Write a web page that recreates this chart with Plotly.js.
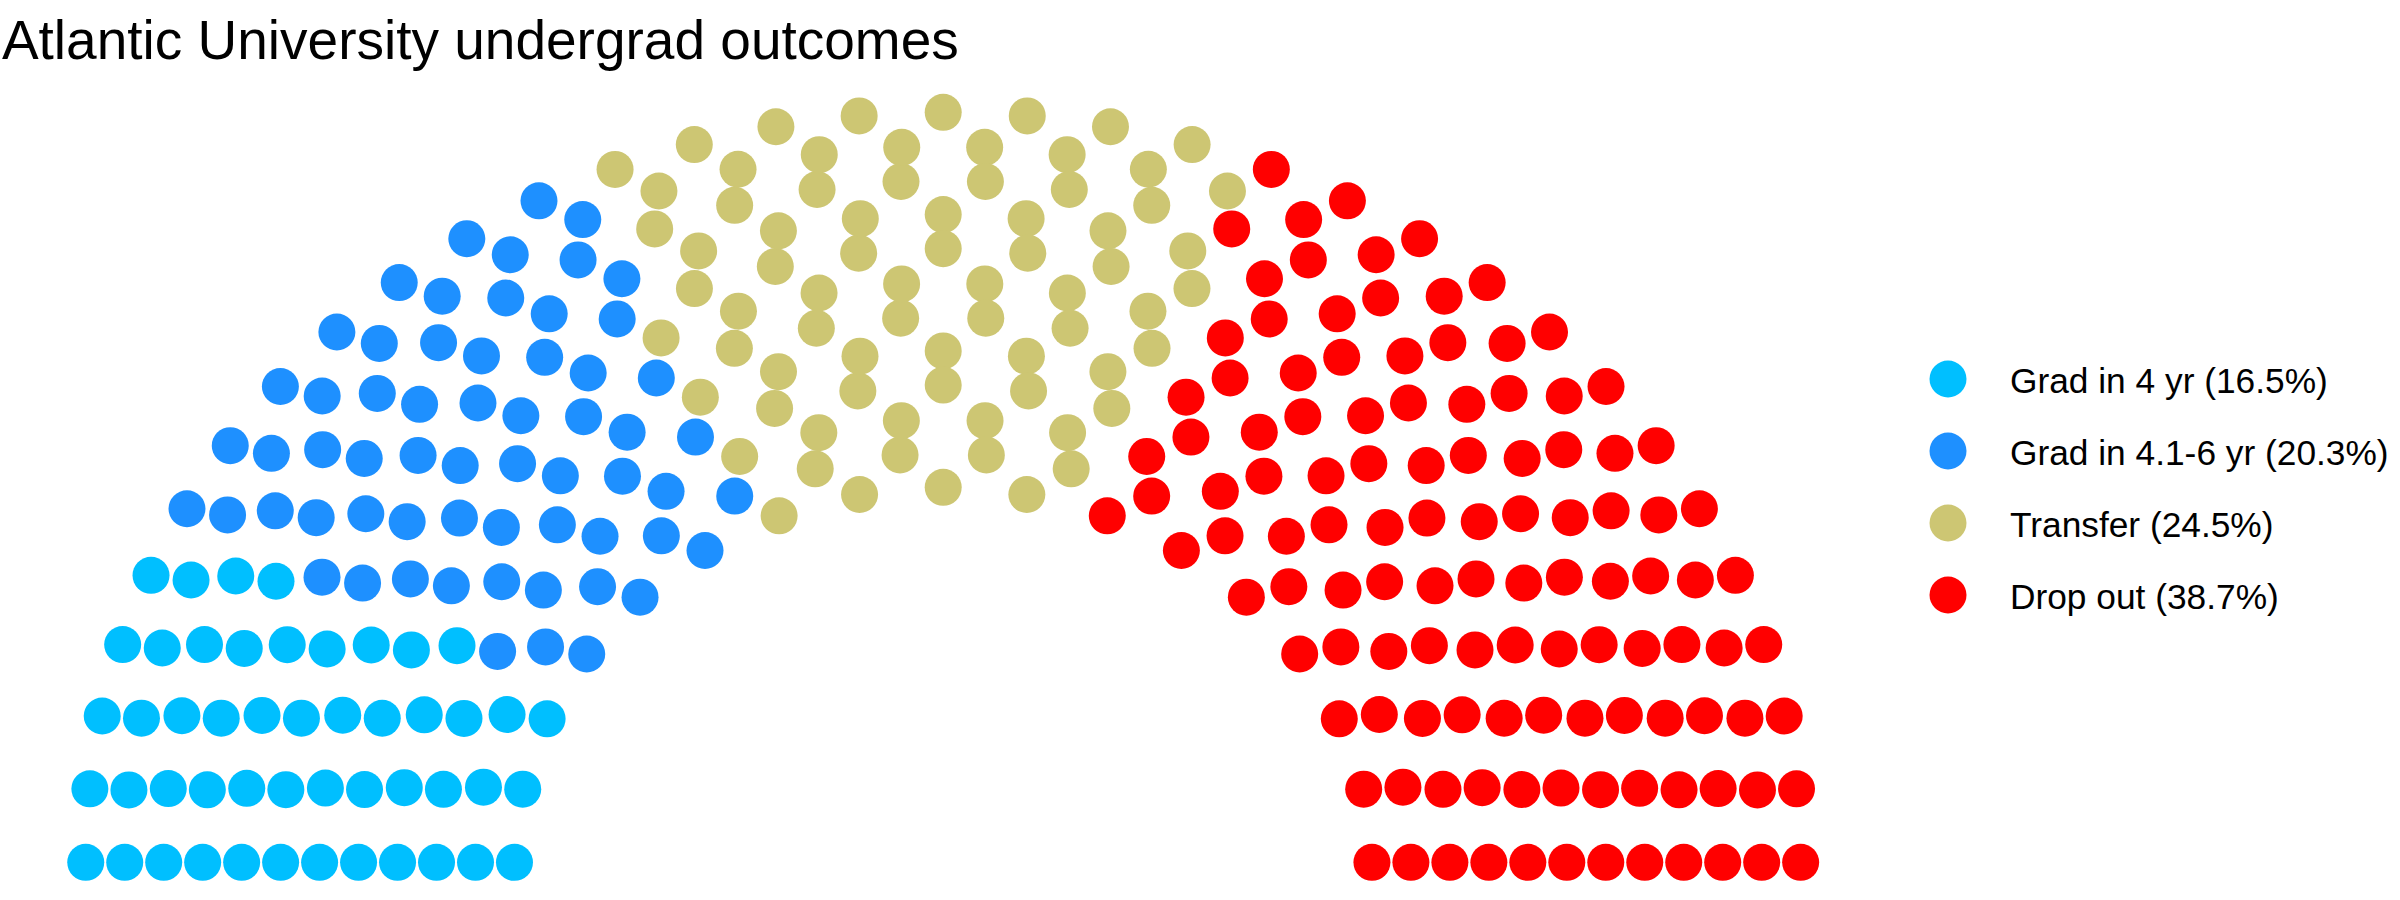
<!DOCTYPE html>
<html>
<head>
<meta charset="utf-8">
<script src="https://cdn.plot.ly/plotly-3.0.1.min.js"></script>
<style>
  html, body { margin: 0; padding: 0; background: #ffffff; }
  #chart { width: 2400px; height: 900px; }
</style>
</head>
<body>
<div id="chart"></div>
<script>
// ---- Data ----
const categories = ['Grad in 4 yr', 'Grad in 4.1-6 yr', 'Transfer', 'Drop out'];
const percents = [16.5, 20.3, 24.5, 38.7];
const seats = [49, 61, 74, 116];
const colors = ['#00BFFF', '#1E90FF', '#CDC673', '#FF0000'];
const parlRows = 12;
const chartTitle = 'Atlantic University undergrad outcomes';

// ---- Semicircle parliament layout (ggparliament-style) ----
function rRound(v) {
  const f = Math.floor(v);
  const d = v - f;
  if (Math.abs(d - 0.5) < 1e-12) return (f % 2 === 0) ? f : f + 1;
  return Math.round(v);
}
function rSeq(from, to, len) {
  if (len === 1) return [from];
  const n1 = len - 1;
  const by = (to - from) / n1;
  const out = [from];
  for (let k = 1; k < n1; k++) out.push(from + k * by);
  out.push(to);
  return out;
}
function parliamentLayout(total, M) {
  const radii = rSeq(1, 2, M);
  let N = total;
  const pts = [];
  for (let i = 0; i < M; i++) {
    let s = 0;
    for (let k = i; k < M; k++) s += radii[k];
    const cnt = rRound(N * radii[i] / s);
    const thetas = rSeq(0, Math.PI, cnt);
    N -= cnt;
    thetas.forEach(t => pts.push({ x: radii[i] * Math.cos(t), y: radii[i] * Math.sin(t), row: i + 1, theta: t }));
  }
  pts.sort((a, b) => (b.theta - a.theta) || (b.row - a.row));
  return pts;
}

const totalSeats = seats.reduce((a, b) => a + b, 0);
const layoutPts = parliamentLayout(totalSeats, parlRows);
const partyOf = [];
seats.forEach((n, p) => { for (let k = 0; k < n; k++) partyOf.push(p); });

const traces = categories.map((name, p) => {
  const xs = [], ys = [];
  layoutPts.forEach((pt, idx) => { if (partyOf[idx] === p) { xs.push(pt.x); ys.push(pt.y); } });
  return {
    type: 'scatter', mode: 'markers', name: name,
    x: xs, y: ys, xaxis: 'x', yaxis: 'y',
    marker: { size: 37, color: colors[p], line: { width: 0 } },
    showlegend: false, hoverinfo: 'name'
  };
});

// ---- Custom legend (large keys like the reference) ----
const LEG_KEY_X = 52, LEG_TEXT_X = 112, LEG_TOP = 379, LEG_STEP = 72;
const legendY = categories.map((_, i) => LEG_TOP + i * LEG_STEP);
traces.push({
  type: 'scatter', mode: 'markers',
  x: categories.map(() => LEG_KEY_X), y: legendY,
  xaxis: 'x2', yaxis: 'y2',
  marker: { size: 37, color: colors, line: { width: 0 } },
  showlegend: false, hoverinfo: 'skip'
});
const legendLabels = categories.map((c, i) => c + ' (' + percents[i].toFixed(1) + '%)');
const annotations = legendLabels.map((t, i) => ({
  text: t, xref: 'x2', yref: 'y2', x: LEG_TEXT_X, y: legendY[i] + 1,
  xanchor: 'left', yanchor: 'middle', showarrow: false,
  font: { family: 'Liberation Sans, Arial, sans-serif', size: 35.3, color: '#000000' }
}));

const hidden = { showgrid: false, zeroline: false, showticklabels: false, ticks: '', showline: false, fixedrange: true };

const layout = {
  width: 2400, height: 900,
  margin: { l: 0, r: 0, t: 0, b: 0, pad: 0 },
  paper_bgcolor: '#ffffff', plot_bgcolor: '#ffffff',
  showlegend: false,
  title: {
    text: chartTitle, xref: 'container', yref: 'container',
    x: 0.0008, xanchor: 'left', y: 1 - 20 / 900, yanchor: 'top',
    font: { family: 'Liberation Sans, Arial, sans-serif', size: 55, color: '#000000' }
  },
  xaxis: Object.assign({ domain: [0, 0.786], range: [-2.2, 2.2] }, hidden),
  yaxis: Object.assign({ domain: [0, 1], range: [-0.1005, 2.2995] }, hidden),
  xaxis2: Object.assign({ domain: [0.79, 1], range: [0, 504], anchor: 'y2' }, hidden),
  yaxis2: Object.assign({ domain: [0, 1], range: [900, 0], anchor: 'x2' }, hidden),
  annotations: annotations
};

Plotly.newPlot('chart', traces, layout, { staticPlot: true, displayModeBar: false });
</script>
</body>
</html>
